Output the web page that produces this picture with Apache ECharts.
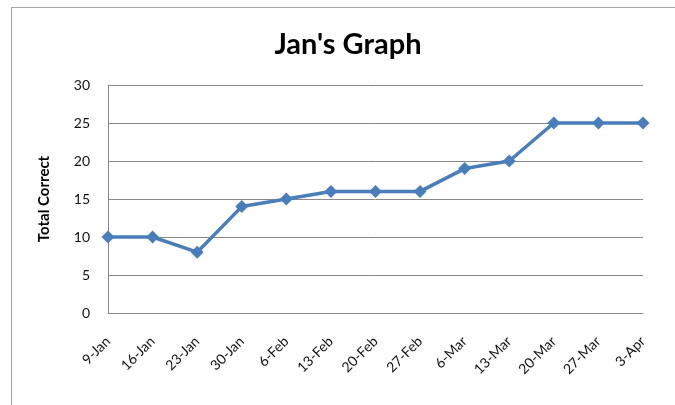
<!DOCTYPE html>
<html>
<head>
<meta charset="utf-8">
<script src="https://cdn.jsdelivr.net/npm/echarts@6/dist/echarts.min.js"></script>
<style>
  html, body { margin: 0; padding: 0; background: #fff; }
  #frame { position: absolute; left: 11px; top: 7px; width: 700px; height: 420px; border: 1px solid #a6a6a6; }
  #chart { position: absolute; left: 0; top: 0; width: 675px; height: 405px; }
</style>
</head>
<body>
<div id="frame"></div>
<div id="chart"></div>
<script>
// weekly dates
const weeks = ['9-Jan', '16-Jan', '23-Jan', '30-Jan', '6-Feb', '13-Feb', '20-Feb',
               '27-Feb', '6-Mar', '13-Mar', '20-Mar', '27-Mar', '3-Apr'];
const totalCorrect = [10, 10, 8, 14, 15, 16, 16, 16, 19, 20, 25, 25, 25];

const font = 'Lato, "Open Sans", sans-serif';

let chart = echarts.init(document.getElementById('chart'));
chart.setOption({
    animation: false,
    title: {
        text: "Jan's Graph",
        left: 343,
        textAlign: 'center',
        top: 25,
        textStyle: { fontFamily: font, fontWeight: 'bold', fontSize: 29, color: '#000' }
    },
    grid: {
        left: 108,
        right: 32,
        top: 85,
        bottom: 92
    },
    xAxis: {
        type: 'category',
        data: weeks,
        boundaryGap: false,
        axisLine: { lineStyle: { color: '#888', width: 1 } },
        axisTick: { show: false },
        axisLabel: {
            rotate: 45,
            margin: 26,
            color: '#111',
            fontFamily: font,
            fontSize: 14
        }
    },
    yAxis: {
        type: 'value',
        min: 0,
        max: 30,
        interval: 5,
        name: 'Total Correct',
        nameLocation: 'middle',
        nameGap: 56,
        nameTextStyle: { fontFamily: font, fontWeight: 'bold', fontSize: 15, color: '#000' },
        axisLine: { show: true, lineStyle: { color: '#888', width: 1 } },
        axisTick: { show: false },
        splitLine: { lineStyle: { color: '#888', width: 1 } },
        axisLabel: { color: '#111', fontFamily: font, fontSize: 14, margin: 18 }
    },
    series: [
        {
            name: 'Total Correct',
            type: 'line',
            data: totalCorrect,
            symbol: 'diamond',
            symbolSize: 13,
            lineStyle: { color: '#4a7ebb', width: 3.5 },
            itemStyle: { color: '#4a7ebb' }
        }
    ]
});
</script>
</body>
</html>
